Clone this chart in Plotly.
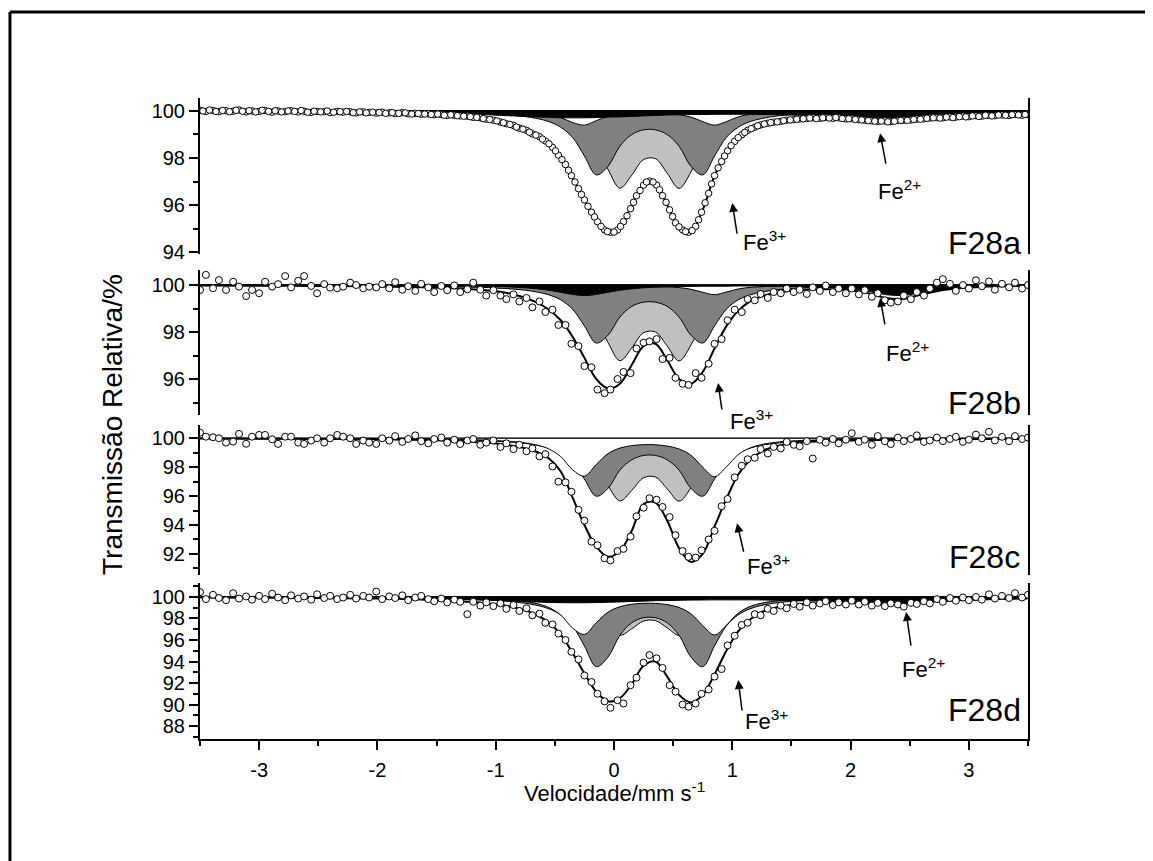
import plotly.graph_objects as go

# ---------------- data ----------------
# velocity channels (mm/s) of the measured points
V = [-3.50, -3.45, -3.39, -3.34, -3.28, -3.22, -3.17, -3.11, -3.06, -3.00,
     -2.95, -2.89, -2.84, -2.78, -2.73, -2.67, -2.62, -2.56, -2.51, -2.45,
     -2.40, -2.34, -2.29, -2.23, -2.18, -2.12, -2.07, -2.01, -1.96, -1.90,
     -1.85, -1.79, -1.74, -1.68, -1.63, -1.57, -1.52, -1.46, -1.41, -1.35,
     -1.30, -1.24, -1.19, -1.13, -1.08, -1.02, -0.96, -0.91, -0.85, -0.80,
     -0.74, -0.69, -0.63, -0.58, -0.52, -0.47, -0.41, -0.36, -0.30, -0.25,
     -0.19, -0.14, -0.08, -0.03, 0.03, 0.08, 0.14, 0.19, 0.25, 0.30,
     0.36, 0.41, 0.47, 0.52, 0.58, 0.63, 0.69, 0.74, 0.80, 0.85,
     0.91, 0.96, 1.02, 1.08, 1.13, 1.19, 1.24, 1.30, 1.35, 1.41,
     1.46, 1.52, 1.57, 1.63, 1.68, 1.74, 1.79, 1.85, 1.90, 1.96,
     2.01, 2.07, 2.12, 2.18, 2.23, 2.29, 2.34, 2.40, 2.45, 2.51,
     2.56, 2.62, 2.67, 2.73, 2.78, 2.84, 2.89, 2.95, 3.00, 3.06,
     3.11, 3.17, 3.22, 3.28, 3.34, 3.39, 3.45, 3.50]

# extra (interleaved) channels of the finer F28a spectrum
VM = [-3.475, -3.42, -3.365, -3.31, -3.25, -3.195, -3.14, -3.085, -3.03, -2.975,
      -2.92, -2.865, -2.81, -2.755, -2.70, -2.645, -2.59, -2.535, -2.48, -2.425,
      -2.37, -2.315, -2.26, -2.205, -2.15, -2.095, -2.04, -1.985, -1.93, -1.875,
      -1.82, -1.765, -1.71, -1.655, -1.60, -1.545, -1.49, -1.435, -1.38, -1.325,
      -1.27, -1.215, -1.16, -1.105, -1.05, -0.99, -0.935, -0.88, -0.825, -0.77,
      -0.715, -0.66, -0.605, -0.55, -0.495, -0.44, -0.385, -0.33, -0.275, -0.22,
      -0.165, -0.11, -0.055, 0.0, 0.055, 0.11, 0.165, 0.22, 0.275, 0.33,
      0.385, 0.44, 0.495, 0.55, 0.605, 0.66, 0.715, 0.77, 0.825, 0.88,
      0.935, 0.99, 1.05, 1.105, 1.16, 1.215, 1.27, 1.325, 1.38, 1.435,
      1.49, 1.545, 1.60, 1.655, 1.71, 1.765, 1.82, 1.875, 1.93, 1.985,
      2.04, 2.095, 2.15, 2.205, 2.26, 2.315, 2.37, 2.425, 2.48, 2.535,
      2.59, 2.645, 2.70, 2.755, 2.81, 2.865, 2.92, 2.975, 3.03, 3.085,
      3.14, 3.195, 3.25, 3.31, 3.365, 3.42, 3.475]

# velocity grid of the fitted curves (mm/s)
VG = [-3.5, -3.0, -2.5, -2.0, -1.6, -1.3, -1.1, -0.95, -0.85, -0.75, -0.65,
      -0.55, -0.45, -0.35, -0.25, -0.15, -0.05, 0.05, 0.15, 0.25, 0.35, 0.45,
      0.55, 0.65, 0.75, 0.85, 0.95, 1.05, 1.15, 1.25, 1.4, 1.6, 1.8, 2.0,
      2.15, 2.3, 2.45, 2.6, 2.8, 3.1, 3.5]

BASE = 100.0

# ---- F28a ----
A_DATA = [100.02, 99.97, 100.01, 99.96, 100.00, 99.98, 100.03, 99.95, 99.99, 99.97,
          100.01, 99.94, 99.99, 99.96, 100.00, 99.95, 99.98, 99.93, 99.97, 99.96,
          99.92, 99.97, 99.94, 99.96, 99.91, 99.95, 99.93, 99.90, 99.94, 99.91,
          99.88, 99.92, 99.87, 99.89, 99.85, 99.87, 99.83, 99.84, 99.80, 99.81,
          99.78, 99.77, 99.72, 99.70, 99.64, 99.60, 99.52, 99.45, 99.38, 99.26,
          99.17, 99.02, 98.90, 98.72, 98.45, 98.12, 97.72, 97.25, 96.70, 96.22,
          95.70, 95.30, 94.95, 94.85, 94.95, 95.30, 95.85, 96.40, 96.85, 97.02,
          96.85, 96.40, 95.80, 95.25, 94.95, 94.85, 95.10, 95.70, 96.50, 97.25,
          97.85, 98.30, 98.70, 98.98, 99.17, 99.30, 99.40, 99.47, 99.52, 99.55,
          99.60, 99.62, 99.65, 99.67, 99.70, 99.68, 99.71, 99.68, 99.70, 99.65,
          99.66, 99.62, 99.60, 99.57, 99.55, 99.57, 99.54, 99.58, 99.60, 99.61,
          99.65, 99.66, 99.69, 99.71, 99.70, 99.74, 99.73, 99.77, 99.75, 99.79,
          99.77, 99.80, 99.79, 99.82, 99.80, 99.84, 99.81, 99.85]
A_DATA_M = [99.99, 100.03, 99.97, 100.01, 99.96, 100.02, 99.98, 100.00, 99.95, 100.02,
            99.97, 100.00, 99.95, 99.99, 99.97, 100.01, 99.94, 99.98, 99.95, 99.99,
            99.94, 99.96, 99.97, 99.92, 99.95, 99.91, 99.94, 99.92, 99.89, 99.92,
            99.89, 99.91, 99.86, 99.88, 99.86, 99.84, 99.86, 99.81, 99.83, 99.79,
            99.77, 99.75, 99.72, 99.67, 99.63, 99.57, 99.49, 99.42, 99.31, 99.22,
            99.09, 98.97, 98.80, 98.60, 98.30, 97.93, 97.48, 96.98, 96.45, 95.95,
            95.50, 95.10, 94.88, 94.86, 95.10, 95.55, 96.12, 96.62, 96.98, 96.98,
            96.65, 96.12, 95.52, 95.08, 94.88, 94.92, 95.38, 96.10, 96.90, 97.58,
            98.08, 98.52, 98.86, 99.08, 99.24, 99.36, 99.44, 99.50, 99.53, 99.58,
            99.61, 99.64, 99.66, 99.69, 99.67, 99.70, 99.69, 99.71, 99.67, 99.66,
            99.63, 99.61, 99.58, 99.56, 99.56, 99.53, 99.56, 99.59, 99.59, 99.63,
            99.64, 99.68, 99.70, 99.69, 99.73, 99.71, 99.75, 99.74, 99.78, 99.76,
            99.81, 99.78, 99.82, 99.81, 99.83, 99.82, 99.84]
A_FIT = [99.98, 99.97, 99.96, 99.93, 99.88, 99.80, 99.68, 99.50, 99.36, 99.18, 98.95,
         98.60, 98.00, 97.15, 96.20, 95.35, 94.87, 95.05, 96.00, 96.85, 96.90, 96.00,
         95.05, 94.90, 95.80, 97.25, 98.20, 98.88, 99.20, 99.40, 99.56, 99.68, 99.70,
         99.65, 99.58, 99.56, 99.60, 99.66, 99.72, 99.78, 99.83]
A_LG = [99.99, 99.98, 99.97, 99.96, 99.94, 99.92, 99.89, 99.87, 99.84, 99.81, 99.75,
        99.68, 99.57, 99.39, 99.08, 98.50, 97.51, 96.72, 97.27, 97.93, 97.97, 97.35,
        96.71, 97.40, 98.42, 99.04, 99.37, 99.56, 99.67, 99.75, 99.82, 99.88, 99.91,
        99.93, 99.94, 99.95, 99.96, 99.96, 99.97, 99.97, 99.98]
A_DG = [99.99, 99.98, 99.98, 99.97, 99.94, 99.92, 99.89, 99.85, 99.81, 99.75, 99.67,
        99.54, 99.30, 98.87, 98.08, 97.28, 97.65, 98.50, 98.99, 99.19, 99.19, 98.99,
        98.50, 97.65, 97.28, 98.08, 98.87, 99.30, 99.54, 99.67, 99.79, 99.86, 99.90,
        99.93, 99.94, 99.95, 99.96, 99.97, 99.97, 99.98, 99.98]
A_W = [100.0, 100.0, 99.99, 99.99, 99.99, 99.98, 99.97, 99.96, 99.95, 99.93, 99.89,
       99.83, 99.71, 99.50, 99.39, 99.58, 99.76, 99.84, 99.88, 99.90, 99.90, 99.88,
       99.83, 99.73, 99.54, 99.39, 99.54, 99.74, 99.85, 99.90, 99.94, 99.97, 99.98,
       99.98, 99.99, 99.99, 99.99, 99.99, 99.99, 100.0, 100.0]
A_FE2 = [99.98, 99.97, 99.96, 99.94, 99.91, 99.87, 99.84, 99.80, 99.78, 99.76, 99.74,
         99.72, 99.70, 99.70, 99.70, 99.71, 99.73, 99.74, 99.76, 99.78, 99.80, 99.82,
         99.83, 99.84, 99.84, 99.85, 99.85, 99.85, 99.85, 99.84, 99.83, 99.80, 99.76,
         99.73, 99.70, 99.70, 99.71, 99.74, 99.78, 99.85, 99.90]

# ---- F28b ----
B_DATA = [99.79, 100.43, 99.86, 100.21, 99.79, 100.14, 99.93, 99.53, 99.79, 99.65,
          100.14, 99.93, 100.04, 100.38, 99.90, 100.18, 100.38, 99.96, 99.65, 100.04,
          99.89, 99.86, 99.93, 100.10, 100.00, 99.86, 99.93, 99.90, 100.04, 99.86,
          100.12, 99.80, 99.95, 99.75, 100.05, 99.90, 99.70, 99.96, 99.78, 99.98,
          99.70, 99.82, 100.10, 99.80, 99.55, 99.78, 99.55, 99.40, 99.60, 99.30,
          99.45, 99.05, 99.30, 98.85, 98.95, 98.30, 98.30, 97.50, 97.40, 96.55,
          96.50, 95.55, 95.40, 95.55, 96.00, 96.30, 96.25, 97.30, 97.55, 97.60,
          97.70, 96.85, 96.90, 96.05, 95.80, 95.75, 96.25, 96.05, 96.65, 97.50,
          97.70, 98.50, 98.95, 98.85, 99.40, 99.35, 99.62, 99.45, 99.70, 99.65,
          99.85, 99.70, 99.80, 99.62, 99.90, 99.75, 99.98, 99.70, 99.85, 99.65,
          99.85, 99.60, 99.78, 99.50, 99.65, 99.35, 99.25, 99.30, 99.55, 99.40,
          99.70, 99.55, 99.85, 100.10, 100.25, 100.05, 99.75, 100.00, 99.85, 100.20,
          99.95, 100.15, 99.80, 100.05, 99.90, 100.10, 99.85, 100.00]
B_FIT = [99.98, 99.97, 99.96, 99.94, 99.90, 99.85, 99.78, 99.70, 99.60, 99.45, 99.25,
         98.95, 98.50, 97.80, 96.90, 96.00, 95.60, 95.80, 96.60, 97.40, 97.50, 96.80,
         96.00, 95.80, 96.30, 97.30, 98.25, 98.90, 99.30, 99.52, 99.70, 99.80, 99.82,
         99.78, 99.65, 99.45, 99.42, 99.60, 99.80, 99.92, 99.96]
B_LG = [99.99, 99.98, 99.97, 99.96, 99.94, 99.92, 99.90, 99.87, 99.84, 99.81, 99.76,
        99.69, 99.58, 99.40, 99.10, 98.52, 97.55, 96.78, 97.32, 97.97, 98.00, 97.40,
        96.77, 97.44, 98.45, 99.05, 99.38, 99.57, 99.68, 99.75, 99.82, 99.88, 99.91,
        99.93, 99.94, 99.95, 99.96, 99.96, 99.97, 99.97, 99.98]
B_DG = [99.99, 99.99, 99.98, 99.97, 99.95, 99.93, 99.90, 99.86, 99.83, 99.78, 99.70,
        99.58, 99.37, 98.97, 98.26, 97.53, 97.87, 98.64, 99.09, 99.27, 99.27, 99.09,
        98.64, 97.87, 97.53, 98.26, 98.97, 99.37, 99.58, 99.70, 99.81, 99.88, 99.91,
        99.94, 99.95, 99.96, 99.96, 99.97, 99.97, 99.98, 99.99]
B_W = [100.0, 100.0, 100.0, 99.99, 99.99, 99.99, 99.98, 99.97, 99.96, 99.95, 99.93,
       99.89, 99.80, 99.66, 99.60, 99.72, 99.84, 99.89, 99.92, 99.93, 99.93, 99.92,
       99.89, 99.82, 99.69, 99.59, 99.70, 99.83, 99.90, 99.93, 99.96, 99.98, 99.98,
       99.99, 99.99, 99.99, 100.0, 100.0, 100.0, 100.0, 100.0]
B_FE2 = [99.99, 99.99, 99.99, 99.99, 99.98, 99.96, 99.95, 99.93, 99.91, 99.88, 99.84,
         99.78, 99.69, 99.60, 99.55, 99.60, 99.69, 99.78, 99.84, 99.88, 99.91, 99.93,
         99.94, 99.94, 99.95, 99.95, 99.95, 99.96, 99.96, 99.95, 99.95, 99.93, 99.90,
         99.83, 99.73, 99.59, 99.56, 99.68, 99.83, 99.93, 99.97]

# ---- F28c ----
C_DATA = [100.39, 100.11, 100.07, 100.00, 99.70, 99.77, 100.30, 99.62, 100.11, 100.23,
          100.23, 99.93, 99.61, 100.11, 100.11, 99.70, 99.61, 99.84, 100.00, 99.70,
          100.00, 100.23, 100.11, 100.00, 99.61, 99.84, 99.70, 99.61, 100.00, 99.84,
          100.15, 99.75, 99.95, 100.20, 99.80, 99.65, 99.95, 100.05, 99.70, 99.90,
          99.60, 99.85, 99.95, 99.55, 99.70, 99.85, 99.40, 99.65, 99.25, 99.55,
          99.10, 99.30, 98.75, 98.90, 98.05, 97.00, 96.95, 96.30, 95.05, 94.30,
          92.85, 92.60, 91.70, 91.55, 92.20, 92.35, 93.20, 94.60, 95.20, 95.85,
          95.75, 95.25, 94.55, 93.30, 92.20, 91.80, 91.75, 92.25, 93.00, 93.60,
          95.30, 95.80, 97.30, 98.10, 98.55, 98.65, 99.25, 98.95, 99.40, 99.30,
          99.75, 99.55, 99.45, 99.80, 98.60, 99.90, 99.70, 99.95, 99.65, 99.90,
          100.35, 99.75, 99.90, 99.55, 100.15, 99.80, 99.60, 100.05, 99.80, 99.95,
          100.20, 99.75, 99.85, 100.05, 99.80, 99.95, 100.10, 99.75, 99.90, 100.25,
          100.00, 100.45, 99.85, 100.10, 99.80, 100.15, 99.95, 100.05]
C_FIT = [99.98, 99.97, 99.95, 99.93, 99.88, 99.80, 99.70, 99.60, 99.48, 99.30, 99.05,
         98.60, 97.70, 95.90, 94.00, 92.50, 91.80, 92.20, 93.60, 95.45, 95.55, 94.30,
         92.40, 91.45, 92.00, 93.90, 95.80, 97.50, 98.50, 99.10, 99.50, 99.72, 99.80,
         99.85, 99.87, 99.88, 99.90, 99.91, 99.93, 99.95, 99.96]
C_LG = [99.98, 99.97, 99.96, 99.95, 99.92, 99.89, 99.86, 99.82, 99.79, 99.74, 99.67,
        99.58, 99.43, 99.19, 98.78, 98.01, 96.71, 95.67, 96.39, 97.27, 97.32, 96.50,
        95.65, 96.56, 97.91, 98.73, 99.17, 99.42, 99.57, 99.66, 99.76, 99.84, 99.88,
        99.91, 99.92, 99.93, 99.94, 99.95, 99.96, 99.96, 99.97]
C_DG = [99.98, 99.98, 99.96, 99.95, 99.92, 99.88, 99.83, 99.78, 99.72, 99.64, 99.52,
        99.32, 98.97, 98.33, 97.18, 95.99, 96.54, 97.80, 98.51, 98.81, 98.81, 98.51,
        97.80, 96.54, 95.99, 97.18, 98.33, 98.97, 99.32, 99.52, 99.68, 99.80, 99.86,
        99.89, 99.91, 99.93, 99.94, 99.95, 99.96, 99.97, 99.98]
C_W = [99.99, 99.98, 99.98, 99.96, 99.95, 99.91, 99.88, 99.82, 99.77, 99.68, 99.53,
       99.26, 98.73, 97.82, 97.38, 98.19, 98.94, 99.32, 99.49, 99.56, 99.55, 99.46,
       99.26, 98.83, 98.00, 97.34, 98.02, 98.87, 99.33, 99.57, 99.75, 99.85, 99.90,
       99.93, 99.94, 99.95, 99.96, 99.97, 99.97, 99.98, 99.98]

# ---- F28d ----
D_DATA = [100.45, 99.80, 100.20, 99.90, 99.70, 100.35, 99.85, 100.05, 99.75, 100.10,
          99.80, 100.30, 99.95, 99.70, 100.15, 99.85, 100.05, 99.75, 100.25, 99.90,
          100.10, 99.80, 99.95, 100.20, 99.85, 100.10, 99.95, 100.50, 99.80, 100.05,
          99.90, 100.15, 99.70, 99.95, 100.10, 99.80, 99.60, 99.85, 99.50, 99.75,
          99.55, 98.40, 99.55, 99.20, 99.50, 99.15, 99.40, 98.90, 99.25, 98.70,
          98.95, 98.30, 98.45, 97.60, 97.45, 96.60, 96.00, 94.90, 94.20, 92.70,
          92.10, 91.00, 90.30, 89.70, 90.40, 90.10, 91.80, 92.50, 93.90, 94.60,
          94.30, 93.40, 91.80, 91.20, 90.00, 89.80, 90.10, 91.00, 91.40, 92.60,
          93.30, 95.50, 96.40, 97.40, 97.60, 98.40, 98.30, 98.90, 98.70, 99.20,
          98.95, 99.35, 99.10, 99.50, 99.20, 99.40, 99.60, 99.25, 99.50, 99.30,
          99.65, 99.30, 99.55, 99.20, 99.45, 99.15, 99.40, 99.30, 99.10, 99.45,
          99.35, 99.60, 99.40, 99.80, 99.55, 99.90, 99.65, 99.95, 99.70, 100.00,
          99.75, 100.25, 99.85, 100.10, 99.90, 100.35, 99.95, 100.20]
D_FIT = [99.95, 99.93, 99.90, 99.85, 99.75, 99.60, 99.45, 99.25, 99.05, 98.75, 98.30,
         97.60, 96.50, 94.80, 92.90, 91.20, 90.30, 90.60, 91.90, 93.60, 94.00, 92.60,
         90.90, 90.20, 90.90, 92.80, 95.00, 96.80, 97.90, 98.60, 99.10, 99.35, 99.45,
         99.45, 99.40, 99.35, 99.38, 99.50, 99.65, 99.80, 99.90]
D_LG = [99.98, 99.98, 99.97, 99.96, 99.94, 99.91, 99.88, 99.86, 99.83, 99.79, 99.73,
        99.65, 99.53, 99.34, 99.00, 98.37, 97.30, 96.44, 97.04, 97.76, 97.80, 97.13,
        96.43, 97.17, 98.29, 98.96, 99.32, 99.52, 99.64, 99.72, 99.80, 99.87, 99.90,
        99.92, 99.94, 99.95, 99.95, 99.96, 99.96, 99.97, 99.98]
D_DG = [99.97, 99.96, 99.94, 99.92, 99.87, 99.80, 99.73, 99.64, 99.55, 99.41, 99.22,
        98.90, 98.34, 97.30, 95.45, 93.52, 94.42, 96.44, 97.60, 98.07, 98.07, 97.60,
        96.44, 94.42, 93.52, 95.45, 97.30, 98.34, 98.90, 99.22, 99.49, 99.67, 99.77,
        99.83, 99.86, 99.89, 99.91, 99.92, 99.93, 99.95, 99.96]
D_W = [99.99, 99.98, 99.97, 99.95, 99.93, 99.89, 99.83, 99.77, 99.69, 99.58, 99.38,
       99.02, 98.32, 97.11, 96.52, 97.60, 98.59, 99.09, 99.32, 99.41, 99.40, 99.29,
       99.02, 98.44, 97.35, 96.47, 97.37, 98.50, 99.11, 99.43, 99.67, 99.80, 99.87,
       99.91, 99.92, 99.94, 99.95, 99.96, 99.97, 99.97, 99.98]
D_FE2 = [99.96, 99.95, 99.93, 99.89, 99.83, 99.77, 99.71, 99.65, 99.61, 99.57, 99.53,
         99.49, 99.47, 99.46, 99.46, 99.48, 99.51, 99.54, 99.58, 99.61, 99.65, 99.67,
         99.69, 99.71, 99.72, 99.73, 99.73, 99.73, 99.73, 99.72, 99.69, 99.65, 99.58,
         99.51, 99.47, 99.46, 99.48, 99.53, 99.61, 99.72, 99.83]

for arr in (A_DATA, B_DATA, C_DATA, D_DATA):
    assert len(arr) == len(V), len(arr)
assert len(A_DATA_M) == len(VM), len(A_DATA_M)
for arr in (A_FIT, A_LG, A_DG, A_W, A_FE2, B_FIT, B_LG, B_DG, B_W, B_FE2,
            C_FIT, C_LG, C_DG, C_W, D_FIT, D_LG, D_DG, D_W, D_FE2):
    assert len(arr) == len(VG), len(arr)

# ---------------- figure ----------------
FONT = "Liberation Sans"
COMP_COLORS = ["#c0c0c0", "#808080", "#ffffff", "#000000"]

panels = [
    ("y", V + VM, A_DATA + A_DATA_M, A_FIT, [A_LG, A_DG, A_W, A_FE2], 6.5),
    ("y2", V, B_DATA, B_FIT, [B_LG, B_DG, B_W, B_FE2], 7),
    ("y3", V, C_DATA, C_FIT, [C_LG, C_DG, C_W, None], 7),
    ("y4", V, D_DATA, D_FIT, [D_LG, D_DG, D_W, D_FE2], 7),
]

fig = go.Figure()
for yax, vx, data, fit, comps, msize in panels:
    for comp, col in zip(comps, COMP_COLORS):
        if comp is None:
            continue
        fig.add_trace(go.Scatter(x=VG, y=[BASE] * len(VG), mode="lines",
                                 line=dict(color="black", width=1),
                                 xaxis="x", yaxis=yax, hoverinfo="skip", showlegend=False))
        fig.add_trace(go.Scatter(x=VG, y=comp, mode="lines",
                                 line=dict(color="black", width=1, shape="spline"),
                                 fill="tonexty", fillcolor=col,
                                 xaxis="x", yaxis=yax, hoverinfo="skip", showlegend=False))
    fig.add_trace(go.Scatter(x=VG, y=fit, mode="lines",
                             line=dict(color="black", width=2, shape="spline"),
                             xaxis="x", yaxis=yax, showlegend=False))
    fig.add_trace(go.Scatter(x=vx, y=data, mode="markers",
                             marker=dict(symbol="circle", size=msize, color="white",
                                         line=dict(color="black", width=1)),
                             xaxis="x", yaxis=yax, showlegend=False))

tickfont = dict(family=FONT, size=20, color="black")

def yaxis(domain, rng, vals):
    return dict(domain=domain, range=rng, anchor="x", tickvals=vals,
                ticktext=[str(v) for v in vals], ticks="outside", ticklen=9,
                tickwidth=1.5, tickcolor="black", showline=True, linewidth=2,
                linecolor="black", mirror=True, showgrid=False, zeroline=False,
                tickfont=tickfont,
                minor=dict(dtick=1, ticks="outside", ticklen=5, tickwidth=1.5,
                           tickcolor="black", showgrid=False))

# the page adds an 8 px body margin, so the figure is 8 px smaller and shifted
fig.update_layout(
    width=1145, height=853,
    margin=dict(l=192, r=125, t=90, b=122),
    paper_bgcolor="white", plot_bgcolor="white",
    showlegend=False,
    xaxis=dict(domain=[0, 1], range=[-3.5, 3.5], anchor="y4",
               tickvals=[-3, -2, -1, 0, 1, 2, 3], ticktext=["-3", "-2", "-1", "0", "1", "2", "3"],
               ticks="outside", ticklen=9, tickwidth=1.5, tickcolor="black",
               ticklabelstandoff=3,
               showline=True, linewidth=2, linecolor="black",
               showgrid=False, zeroline=False, tickfont=tickfont,
               minor=dict(dtick=0.5, ticks="outside", ticklen=5, tickwidth=1.5,
                          tickcolor="black", showgrid=False)),
    xaxis2=dict(overlaying="x", anchor="y", side="top", range=[-3.5, 3.5],
                showline=True, linewidth=2, linecolor="black",
                ticks="inside", ticklen=3, tickwidth=1, tickcolor="black",
                dtick=0.5, tick0=-3.5, showticklabels=False,
                showgrid=False, zeroline=False),
    yaxis=yaxis([0.7574, 1.0], [93.95, 100.54], [94, 96, 98, 100]),
    yaxis2=yaxis([0.5055, 0.7317], [94.47, 100.64], [96, 98, 100]),
    yaxis3=yaxis([0.2558, 0.4899], [90.54, 100.92], [92, 94, 96, 98, 100]),
    yaxis4=yaxis([0.0, 0.2434], [86.8, 101.3], [88, 90, 92, 94, 96, 98, 100]),
)

annots = []
def arrow(yref, x, y, ax, ay):
    annots.append(dict(xref="x", yref=yref, x=x, y=y, ax=ax, ay=ay, text="",
                       showarrow=True, arrowhead=2, arrowsize=1.2, arrowwidth=1.5,
                       arrowcolor="black"))

def label(yref, x, y, text, size, yshift=0):
    annots.append(dict(xref="x", yref=yref, x=x, y=y, text=text, showarrow=False,
                       xanchor="center", yanchor="middle", yshift=yshift,
                       font=dict(family=FONT, size=size, color="black")))

FE = 22
TAG = 32
# F28a
arrow("y", 1.0, 96.09, 5, 32)
label("y", 1.27, 94.47, "Fe<sup>3+</sup>", FE)
arrow("y", 2.25, 99.05, 6, 32)
label("y", 2.41, 96.63, "Fe<sup>2+</sup>", FE)
label("y", 3.13, 94.39, "F28a", TAG)
# F28b
arrow("y2", 0.88, 95.83, 4, 28)
label("y2", 1.16, 94.6, "Fe<sup>3+</sup>", FE, yshift=-8)
arrow("y2", 2.25, 99.45, 5, 28)
label("y2", 2.48, 97.15, "Fe<sup>2+</sup>", FE)
label("y2", 3.13, 94.98, "F28b", TAG)
# F28c
arrow("y3", 1.04, 94.12, 7, 30)
label("y3", 1.31, 91.23, "Fe<sup>3+</sup>", FE)
label("y3", 3.13, 91.79, "F28c", TAG)
# F28d
arrow("y4", 2.47, 98.6, 5, 35)
label("y4", 2.62, 93.4, "Fe<sup>2+</sup>", FE)
arrow("y4", 1.05, 92.28, 4, 32)
label("y4", 1.29, 88.56, "Fe<sup>3+</sup>", FE)
label("y4", 3.13, 89.49, "F28d", TAG)

# axis titles
annots.append(dict(xref="paper", yref="paper", x=0.5, y=-0.083,
                   xanchor="center", yanchor="middle",
                   text="Velocidade/mm s<sup>-1</sup>", showarrow=False,
                   font=dict(family=FONT, size=22, color="black")))
annots.append(dict(xref="paper", yref="paper", x=-0.105, y=0.49,
                   xanchor="center", yanchor="middle",
                   text="Transmissão Relativa/%", showarrow=False, textangle=-90,
                   font=dict(family=FONT, size=28, color="black")))
fig.update_layout(annotations=annots)

# page frame (top and left edges visible)
fig.add_shape(type="line", xref="paper", yref="paper", x0=-0.2295, x1=1.2,
              y0=1.1341, y1=1.1341, line=dict(color="black", width=3))
fig.add_shape(type="line", xref="paper", yref="paper", x0=-0.2295, x1=-0.2295,
              y0=-0.3, y1=1.1341, line=dict(color="black", width=3))

fig.write_html("out.html")
